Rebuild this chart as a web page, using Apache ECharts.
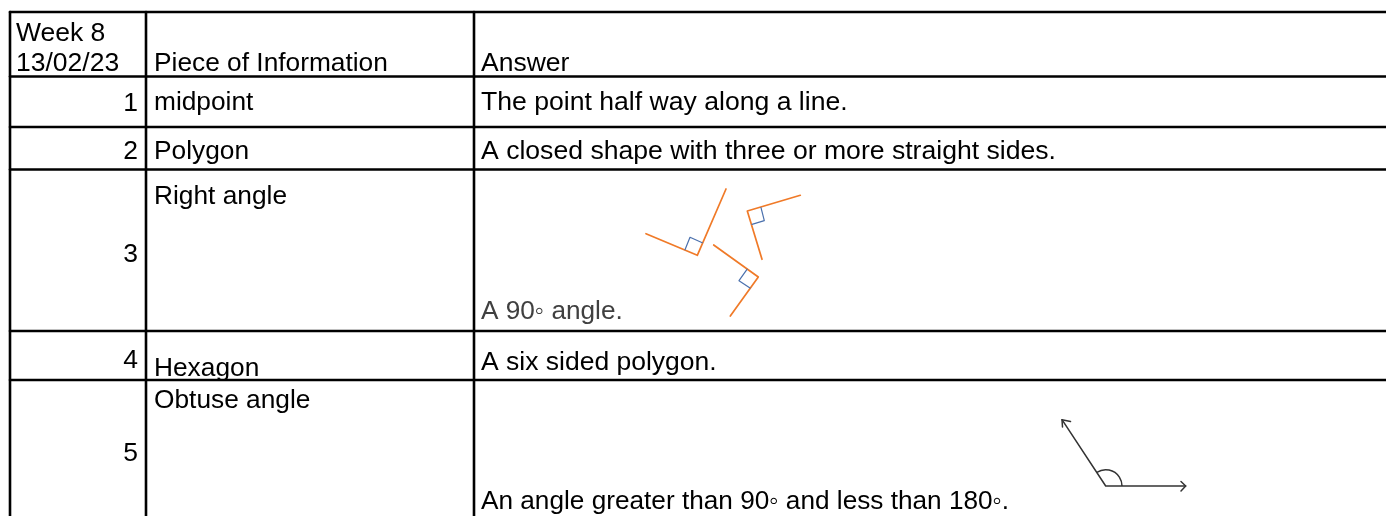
<!DOCTYPE html>
<html>
<head>
<meta charset="utf-8">
<style>
  html, body { margin: 0; padding: 0; background: #fff; }
  #chart { width: 1386px; height: 516px; }
</style>
<script src="https://cdn.jsdelivr.net/npm/echarts@6/dist/echarts.min.js"></script>
</head>
<body>
<div id="chart"></div>
<script>
// table content
const headerWeek = ['Week 8', '13/02/23'];
const headerColumns = ['Piece of Information', 'Answer'];
const rowNumbers = ['1', '2', '3', '4', '5'];
const terms = ['midpoint', 'Polygon', 'Right angle', 'Hexagon', 'Obtuse angle'];
const answers = [
  'The point half way along a line.',
  'A closed shape with three or more straight sides.',
  'A 90\u25E6 angle.',
  'A six sided polygon.',
  'An angle greater than 90\u25E6 and less than 180\u25E6.'
];
const answerColors = ['#000000', '#000000', '#404040', '#000000', '#000000'];
const answerFontSizes = [26.6, 26.6, 26.2, 26.5, 26.2];

// table layout, in page pixels
const columnEdges = [10, 146, 474];
const rowEdges = [12, 76.5, 127, 169.5, 331, 380];
const numberRight = 138;
const termLeft = 154;
const answerLeft = 481;
const weekLeft = 16;
const weekMiddles = [34, 63.5];
const headerMiddle = 63.5;
const numberMiddles = [103.5, 152, 255, 361, 454];
const termMiddles = [103, 152, 197, 369, 401];
const answerMiddles = [103, 152, 312, 363, 502];
const baseFontSize = 26.5;
const termFontSize = 26.3;

// diagrams: right angles (orange arms, blue squares)
const rightAngleArms = [
  [[646, 233.7], [697.3, 255.3], [726, 189]],
  [[800.3, 195.3], [747.3, 211], [762, 259.3]],
  [[713.7, 245], [758.3, 277], [730.3, 316]]
];
const rightAngleSquares = [
  [[685, 249.7], [690, 237.3], [702.3, 242.7]],
  [[761, 207.7], [764.3, 220.7], [752, 224.3]],
  [[747, 269.3], [739, 280.7], [750, 288]]
];

// diagram: obtuse angle
const obtuseArms = [
  [[1062, 419.7], [1105.7, 486], [1185.7, 486]],
  [[1062.5, 427], [1062, 419.7], [1070.5, 421.5]],
  [[1181, 481.5], [1185.7, 486], [1181, 491]]
];
const obtuseArcCentre = [1105.7, 486];
const obtuseArcRadius = 16.3;
const obtuseArcSweep = [0, 123];

const textColor = '#000000';
const fontFamily = '"Liberation Sans", Arial, sans-serif';

const texts = [];
headerWeek.forEach((t, i) => texts.push([weekLeft, weekMiddles[i], t, 'left', textColor, baseFontSize]));
texts.push([termLeft, headerMiddle, headerColumns[0], 'left', textColor, termFontSize]);
texts.push([answerLeft, headerMiddle, headerColumns[1], 'left', textColor, baseFontSize]);
rowNumbers.forEach((t, i) => texts.push([numberRight, numberMiddles[i], t, 'right', textColor, baseFontSize]));
terms.forEach((t, i) => texts.push([termLeft, termMiddles[i], t, 'left', textColor, termFontSize]));
answers.forEach((t, i) => texts.push([answerLeft, answerMiddles[i], t, 'left', answerColors[i], answerFontSizes[i]]));

const lastX = 1386;
const lastY = 516;

function polyline(points, color, width) {
  return {
    type: 'line',
    data: points,
    showSymbol: false,
    silent: true,
    clip: false,
    lineStyle: { color: color, width: width, cap: 'round', join: 'round' }
  };
}

const series = [];
rowEdges.forEach(y => series.push(polyline([[columnEdges[0], y], [lastX, y]], '#000000', 2.6)));
columnEdges.forEach(x => series.push(polyline([[x, rowEdges[0]], [x, lastY]], '#000000', 2.6)));
rightAngleArms.forEach(p => series.push(polyline(p, '#f07a28', 1.7)));
rightAngleSquares.forEach(p => series.push(polyline(p, '#4a70ad', 1.2)));
obtuseArms.forEach(p => series.push(polyline(p, '#333333', 1.5)));

series.push({
  type: 'custom',
  coordinateSystem: 'cartesian2d',
  silent: true,
  clip: false,
  data: [obtuseArcCentre],
  renderItem: (params, api) => {
    const c = api.coord([api.value(0), api.value(1)]);
    return {
      type: 'arc',
      shape: {
        cx: c[0], cy: c[1], r: obtuseArcRadius,
        startAngle: -obtuseArcSweep[1] * Math.PI / 180,
        endAngle: -obtuseArcSweep[0] * Math.PI / 180
      },
      style: { stroke: '#333333', lineWidth: 1.5, fill: null }
    };
  }
});

series.push({
  type: 'custom',
  coordinateSystem: 'cartesian2d',
  silent: true,
  clip: false,
  data: texts,
  encode: { x: 0, y: 1 },
  renderItem: (params, api) => {
    const row = texts[params.dataIndex];
    const c = api.coord([row[0], row[1]]);
    return {
      type: 'text',
      style: {
        text: row[2],
        x: c[0],
        y: c[1],
        fill: row[4],
        font: row[5] + 'px ' + fontFamily,
        align: row[3],
        verticalAlign: 'middle'
      }
    };
  }
});

const chart = echarts.init(document.getElementById('chart'), null, { renderer: 'canvas' });
chart.setOption({
  animation: false,
  backgroundColor: '#ffffff',
  grid: { left: 0, right: 0, top: 0, bottom: 0 },
  xAxis: { type: 'value', min: 0, max: lastX, show: false },
  yAxis: { type: 'value', min: 0, max: lastY, inverse: true, show: false },
  series: series
});
</script>
</body>
</html>
